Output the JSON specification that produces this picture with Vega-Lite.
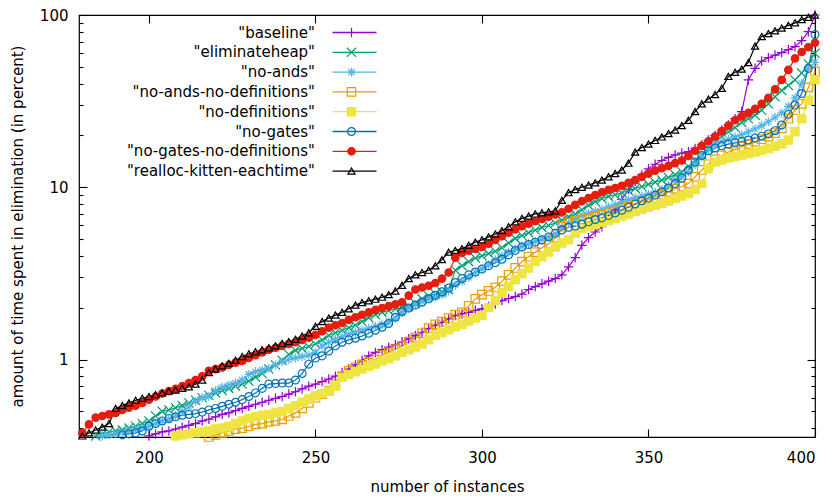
{
  "$schema": "https://vega.github.io/schema/vega-lite/v6.json",
  "width": 736,
  "height": 422,
  "autosize": {"type": "none"},
  "padding": {"left": 79, "top": 15, "right": 17, "bottom": 62},
  "config": {
    "font": "DejaVu Sans",
    "view": {"stroke": "#000", "strokeWidth": 1.2},
    "axis": {"domain": false, "grid": false, "labelFontSize": 15, "titleFontSize": 15, "titleFontWeight": "normal", "labelColor": "#000", "titleColor": "#000", "tickColor": "#000", "tickWidth": 1.1},
    "legend": {"labelLimit": 0}
  },
  "data": {"values": [
    {"s":"b","x":200,"y":0.36},{"s":"b","x":202,"y":0.37},{"s":"b","x":204,"y":0.38},{"s":"b","x":206,"y":0.385},{"s":"b","x":208,"y":0.395},{"s":"b","x":210,"y":0.405},{"s":"b","x":212,"y":0.415},{"s":"b","x":214,"y":0.425},{"s":"b","x":216,"y":0.44},{"s":"b","x":218,"y":0.45},{"s":"b","x":220,"y":0.465},{"s":"b","x":222,"y":0.48},{"s":"b","x":224,"y":0.49},{"s":"b","x":226,"y":0.505},{"s":"b","x":228,"y":0.52},{"s":"b","x":230,"y":0.535},{"s":"b","x":232,"y":0.55},{"s":"b","x":234,"y":0.565},{"s":"b","x":236,"y":0.58},{"s":"b","x":238,"y":0.595},{"s":"b","x":240,"y":0.61},{"s":"b","x":242,"y":0.63},{"s":"b","x":244,"y":0.65},{"s":"b","x":246,"y":0.675},{"s":"b","x":248,"y":0.7},{"s":"b","x":250,"y":0.72},{"s":"b","x":252,"y":0.745},{"s":"b","x":254,"y":0.77},{"s":"b","x":256,"y":0.8},{"s":"b","x":258,"y":0.84},{"s":"b","x":260,"y":0.88},{"s":"b","x":262,"y":0.93},{"s":"b","x":264,"y":0.99},{"s":"b","x":266,"y":1.05},{"s":"b","x":268,"y":1.1},{"s":"b","x":270,"y":1.14},{"s":"b","x":272,"y":1.18},{"s":"b","x":274,"y":1.22},{"s":"b","x":276,"y":1.27},{"s":"b","x":278,"y":1.32},{"s":"b","x":280,"y":1.38},{"s":"b","x":282,"y":1.44},{"s":"b","x":284,"y":1.51},{"s":"b","x":286,"y":1.58},{"s":"b","x":288,"y":1.64},{"s":"b","x":290,"y":1.72},{"s":"b","x":292,"y":1.8},{"s":"b","x":294,"y":1.84},{"s":"b","x":296,"y":1.88},{"s":"b","x":298,"y":1.93},{"s":"b","x":300,"y":1.97},{"s":"b","x":302,"y":2.03},{"s":"b","x":304,"y":2.1},{"s":"b","x":306,"y":2.2},{"s":"b","x":308,"y":2.26},{"s":"b","x":310,"y":2.32},{"s":"b","x":312,"y":2.4},{"s":"b","x":314,"y":2.55},{"s":"b","x":316,"y":2.65},{"s":"b","x":318,"y":2.75},{"s":"b","x":320,"y":2.85},{"s":"b","x":322,"y":2.95},{"s":"b","x":324,"y":3.1},{"s":"b","x":326,"y":3.45},{"s":"b","x":328,"y":3.9},{"s":"b","x":330,"y":4.6},{"s":"b","x":332,"y":5.1},{"s":"b","x":334,"y":5.5},{"s":"b","x":336,"y":5.9},{"s":"b","x":338,"y":6.5},{"s":"b","x":340,"y":7.4},{"s":"b","x":342,"y":8.5},{"s":"b","x":344,"y":9.7},{"s":"b","x":346,"y":10.8},{"s":"b","x":348,"y":11.8},{"s":"b","x":350,"y":12.8},{"s":"b","x":352,"y":13.6},{"s":"b","x":354,"y":14.3},{"s":"b","x":356,"y":14.9},{"s":"b","x":358,"y":15.4},{"s":"b","x":360,"y":15.8},{"s":"b","x":362,"y":16.1},{"s":"b","x":364,"y":16.8},{"s":"b","x":366,"y":17.6},{"s":"b","x":368,"y":18.8},{"s":"b","x":370,"y":20},{"s":"b","x":372,"y":21.5},{"s":"b","x":374,"y":23},{"s":"b","x":376,"y":25},{"s":"b","x":378,"y":27.5},{"s":"b","x":380,"y":42},{"s":"b","x":382,"y":49},{"s":"b","x":384,"y":54},{"s":"b","x":386,"y":56.5},{"s":"b","x":388,"y":58.5},{"s":"b","x":390,"y":60.5},{"s":"b","x":392,"y":63},{"s":"b","x":394,"y":65.5},{"s":"b","x":396,"y":71},{"s":"b","x":398,"y":80},{"s":"b","x":400,"y":100},
    {"s":"e","x":184,"y":0.36},{"s":"e","x":186,"y":0.37},{"s":"e","x":188,"y":0.38},{"s":"e","x":190,"y":0.385},{"s":"e","x":192,"y":0.39},{"s":"e","x":194,"y":0.4},{"s":"e","x":196,"y":0.41},{"s":"e","x":198,"y":0.425},{"s":"e","x":200,"y":0.44},{"s":"e","x":202,"y":0.47},{"s":"e","x":204,"y":0.5},{"s":"e","x":206,"y":0.51},{"s":"e","x":208,"y":0.525},{"s":"e","x":210,"y":0.54},{"s":"e","x":212,"y":0.56},{"s":"e","x":214,"y":0.58},{"s":"e","x":216,"y":0.6},{"s":"e","x":218,"y":0.62},{"s":"e","x":220,"y":0.64},{"s":"e","x":222,"y":0.66},{"s":"e","x":224,"y":0.68},{"s":"e","x":226,"y":0.7},{"s":"e","x":228,"y":0.72},{"s":"e","x":230,"y":0.75},{"s":"e","x":232,"y":0.79},{"s":"e","x":234,"y":0.83},{"s":"e","x":236,"y":0.88},{"s":"e","x":238,"y":0.93},{"s":"e","x":240,"y":0.99},{"s":"e","x":242,"y":1.07},{"s":"e","x":244,"y":1.13},{"s":"e","x":246,"y":1.16},{"s":"e","x":248,"y":1.19},{"s":"e","x":250,"y":1.23},{"s":"e","x":252,"y":1.3},{"s":"e","x":254,"y":1.38},{"s":"e","x":256,"y":1.43},{"s":"e","x":258,"y":1.48},{"s":"e","x":260,"y":1.53},{"s":"e","x":262,"y":1.58},{"s":"e","x":264,"y":1.66},{"s":"e","x":266,"y":1.75},{"s":"e","x":268,"y":1.82},{"s":"e","x":270,"y":1.88},{"s":"e","x":272,"y":1.92},{"s":"e","x":274,"y":1.97},{"s":"e","x":276,"y":2},{"s":"e","x":278,"y":2.03},{"s":"e","x":280,"y":2.12},{"s":"e","x":282,"y":2.25},{"s":"e","x":284,"y":2.33},{"s":"e","x":286,"y":2.4},{"s":"e","x":288,"y":2.47},{"s":"e","x":290,"y":2.55},{"s":"e","x":292,"y":3.3},{"s":"e","x":294,"y":3.5},{"s":"e","x":296,"y":3.7},{"s":"e","x":298,"y":3.88},{"s":"e","x":300,"y":4},{"s":"e","x":302,"y":4.12},{"s":"e","x":304,"y":4.25},{"s":"e","x":306,"y":4.45},{"s":"e","x":308,"y":4.75},{"s":"e","x":310,"y":5.05},{"s":"e","x":312,"y":5.25},{"s":"e","x":314,"y":5.45},{"s":"e","x":316,"y":5.65},{"s":"e","x":318,"y":5.85},{"s":"e","x":320,"y":6},{"s":"e","x":322,"y":6.2},{"s":"e","x":324,"y":6.45},{"s":"e","x":326,"y":6.75},{"s":"e","x":328,"y":7},{"s":"e","x":330,"y":7.4},{"s":"e","x":332,"y":7.85},{"s":"e","x":334,"y":8.25},{"s":"e","x":336,"y":8.6},{"s":"e","x":338,"y":8.85},{"s":"e","x":340,"y":9.05},{"s":"e","x":342,"y":9.3},{"s":"e","x":344,"y":9.55},{"s":"e","x":346,"y":9.85},{"s":"e","x":348,"y":10.1},{"s":"e","x":350,"y":10.4},{"s":"e","x":352,"y":10.7},{"s":"e","x":354,"y":11},{"s":"e","x":356,"y":11.4},{"s":"e","x":358,"y":11.8},{"s":"e","x":360,"y":12.3},{"s":"e","x":362,"y":13.2},{"s":"e","x":364,"y":14.3},{"s":"e","x":366,"y":15.5},{"s":"e","x":368,"y":16.8},{"s":"e","x":370,"y":18.2},{"s":"e","x":372,"y":19.8},{"s":"e","x":374,"y":21},{"s":"e","x":376,"y":22.2},{"s":"e","x":378,"y":23.8},{"s":"e","x":380,"y":25},{"s":"e","x":382,"y":26.2},{"s":"e","x":384,"y":28},{"s":"e","x":386,"y":30.5},{"s":"e","x":388,"y":33.5},{"s":"e","x":390,"y":36.5},{"s":"e","x":392,"y":39},{"s":"e","x":394,"y":42},{"s":"e","x":396,"y":46},{"s":"e","x":398,"y":52},{"s":"e","x":400,"y":60},
    {"s":"a","x":186,"y":0.36},{"s":"a","x":188,"y":0.365},{"s":"a","x":190,"y":0.37},{"s":"a","x":192,"y":0.38},{"s":"a","x":194,"y":0.385},{"s":"a","x":196,"y":0.39},{"s":"a","x":198,"y":0.4},{"s":"a","x":200,"y":0.41},{"s":"a","x":202,"y":0.425},{"s":"a","x":204,"y":0.44},{"s":"a","x":206,"y":0.45},{"s":"a","x":208,"y":0.47},{"s":"a","x":210,"y":0.5},{"s":"a","x":212,"y":0.53},{"s":"a","x":214,"y":0.57},{"s":"a","x":216,"y":0.6},{"s":"a","x":218,"y":0.61},{"s":"a","x":220,"y":0.66},{"s":"a","x":222,"y":0.69},{"s":"a","x":224,"y":0.71},{"s":"a","x":226,"y":0.73},{"s":"a","x":228,"y":0.76},{"s":"a","x":230,"y":0.82},{"s":"a","x":232,"y":0.85},{"s":"a","x":234,"y":0.87},{"s":"a","x":236,"y":0.89},{"s":"a","x":238,"y":0.93},{"s":"a","x":240,"y":0.97},{"s":"a","x":242,"y":1},{"s":"a","x":244,"y":1.02},{"s":"a","x":246,"y":1.04},{"s":"a","x":248,"y":1.06},{"s":"a","x":250,"y":1.1},{"s":"a","x":252,"y":1.2},{"s":"a","x":254,"y":1.26},{"s":"a","x":256,"y":1.31},{"s":"a","x":258,"y":1.36},{"s":"a","x":260,"y":1.4},{"s":"a","x":262,"y":1.44},{"s":"a","x":264,"y":1.48},{"s":"a","x":266,"y":1.52},{"s":"a","x":268,"y":1.56},{"s":"a","x":270,"y":1.6},{"s":"a","x":272,"y":1.66},{"s":"a","x":274,"y":1.74},{"s":"a","x":276,"y":1.86},{"s":"a","x":278,"y":1.98},{"s":"a","x":280,"y":2.08},{"s":"a","x":282,"y":2.17},{"s":"a","x":284,"y":2.25},{"s":"a","x":286,"y":2.3},{"s":"a","x":288,"y":2.38},{"s":"a","x":290,"y":2.5},{"s":"a","x":292,"y":2.7},{"s":"a","x":294,"y":2.84},{"s":"a","x":296,"y":3},{"s":"a","x":298,"y":3.2},{"s":"a","x":300,"y":3.35},{"s":"a","x":302,"y":3.55},{"s":"a","x":304,"y":3.8},{"s":"a","x":306,"y":4},{"s":"a","x":308,"y":4.2},{"s":"a","x":310,"y":4.4},{"s":"a","x":312,"y":4.55},{"s":"a","x":314,"y":4.7},{"s":"a","x":316,"y":4.85},{"s":"a","x":318,"y":5},{"s":"a","x":320,"y":5.15},{"s":"a","x":322,"y":5.35},{"s":"a","x":324,"y":5.9},{"s":"a","x":326,"y":6.2},{"s":"a","x":328,"y":6.55},{"s":"a","x":330,"y":6.85},{"s":"a","x":332,"y":7.05},{"s":"a","x":334,"y":7.25},{"s":"a","x":336,"y":7.45},{"s":"a","x":338,"y":7.7},{"s":"a","x":340,"y":7.9},{"s":"a","x":342,"y":8.2},{"s":"a","x":344,"y":8.45},{"s":"a","x":346,"y":8.7},{"s":"a","x":348,"y":8.9},{"s":"a","x":350,"y":9.1},{"s":"a","x":352,"y":9.35},{"s":"a","x":354,"y":9.7},{"s":"a","x":356,"y":10.2},{"s":"a","x":358,"y":11},{"s":"a","x":360,"y":11.6},{"s":"a","x":362,"y":12.3},{"s":"a","x":364,"y":13.5},{"s":"a","x":366,"y":15},{"s":"a","x":368,"y":16.6},{"s":"a","x":370,"y":17.6},{"s":"a","x":372,"y":18.4},{"s":"a","x":374,"y":19},{"s":"a","x":376,"y":19.6},{"s":"a","x":378,"y":20.2},{"s":"a","x":380,"y":21},{"s":"a","x":382,"y":21.8},{"s":"a","x":384,"y":22.8},{"s":"a","x":386,"y":24},{"s":"a","x":388,"y":25.5},{"s":"a","x":390,"y":27},{"s":"a","x":392,"y":29.5},{"s":"a","x":394,"y":33},{"s":"a","x":396,"y":40},{"s":"a","x":398,"y":49},{"s":"a","x":400,"y":53},
    {"s":"o","x":218,"y":0.355},{"s":"o","x":220,"y":0.365},{"s":"o","x":222,"y":0.375},{"s":"o","x":224,"y":0.385},{"s":"o","x":226,"y":0.395},{"s":"o","x":228,"y":0.4},{"s":"o","x":230,"y":0.41},{"s":"o","x":232,"y":0.42},{"s":"o","x":234,"y":0.425},{"s":"o","x":236,"y":0.435},{"s":"o","x":238,"y":0.44},{"s":"o","x":240,"y":0.45},{"s":"o","x":242,"y":0.47},{"s":"o","x":244,"y":0.49},{"s":"o","x":246,"y":0.52},{"s":"o","x":248,"y":0.56},{"s":"o","x":250,"y":0.6},{"s":"o","x":252,"y":0.63},{"s":"o","x":254,"y":0.66},{"s":"o","x":256,"y":0.72},{"s":"o","x":258,"y":0.8},{"s":"o","x":260,"y":0.86},{"s":"o","x":262,"y":0.9},{"s":"o","x":264,"y":0.93},{"s":"o","x":266,"y":0.96},{"s":"o","x":268,"y":1},{"s":"o","x":270,"y":1.06},{"s":"o","x":272,"y":1.1},{"s":"o","x":274,"y":1.15},{"s":"o","x":276,"y":1.2},{"s":"o","x":278,"y":1.27},{"s":"o","x":280,"y":1.34},{"s":"o","x":282,"y":1.42},{"s":"o","x":284,"y":1.52},{"s":"o","x":286,"y":1.6},{"s":"o","x":288,"y":1.66},{"s":"o","x":290,"y":1.74},{"s":"o","x":292,"y":1.82},{"s":"o","x":294,"y":1.88},{"s":"o","x":296,"y":2.05},{"s":"o","x":298,"y":2.25},{"s":"o","x":300,"y":2.38},{"s":"o","x":302,"y":2.5},{"s":"o","x":304,"y":2.62},{"s":"o","x":306,"y":2.85},{"s":"o","x":308,"y":3.1},{"s":"o","x":310,"y":3.4},{"s":"o","x":312,"y":3.7},{"s":"o","x":314,"y":3.95},{"s":"o","x":316,"y":4.2},{"s":"o","x":318,"y":4.45},{"s":"o","x":320,"y":4.7},{"s":"o","x":322,"y":5.1},{"s":"o","x":324,"y":5.9},{"s":"o","x":326,"y":6.2},{"s":"o","x":328,"y":6.35},{"s":"o","x":330,"y":6.5},{"s":"o","x":332,"y":6.6},{"s":"o","x":334,"y":6.75},{"s":"o","x":336,"y":6.9},{"s":"o","x":338,"y":7.05},{"s":"o","x":340,"y":7.25},{"s":"o","x":342,"y":7.45},{"s":"o","x":344,"y":7.7},{"s":"o","x":346,"y":7.95},{"s":"o","x":348,"y":8.2},{"s":"o","x":350,"y":8.45},{"s":"o","x":352,"y":8.75},{"s":"o","x":354,"y":9.05},{"s":"o","x":356,"y":9.4},{"s":"o","x":358,"y":9.8},{"s":"o","x":360,"y":10.1},{"s":"o","x":362,"y":10.5},{"s":"o","x":364,"y":11.5},{"s":"o","x":366,"y":12.6},{"s":"o","x":368,"y":13.6},{"s":"o","x":370,"y":14.5},{"s":"o","x":372,"y":15.3},{"s":"o","x":374,"y":16},{"s":"o","x":376,"y":16.6},{"s":"o","x":378,"y":17.2},{"s":"o","x":380,"y":17.8},{"s":"o","x":382,"y":18.4},{"s":"o","x":384,"y":19},{"s":"o","x":386,"y":19.7},{"s":"o","x":388,"y":20.6},{"s":"o","x":390,"y":22},{"s":"o","x":392,"y":25},{"s":"o","x":394,"y":28},{"s":"o","x":396,"y":30.5},{"s":"o","x":398,"y":38},{"s":"o","x":400,"y":47},
    {"s":"d","x":208,"y":0.36},{"s":"d","x":210,"y":0.365},{"s":"d","x":212,"y":0.37},{"s":"d","x":214,"y":0.375},{"s":"d","x":216,"y":0.38},{"s":"d","x":218,"y":0.385},{"s":"d","x":220,"y":0.395},{"s":"d","x":222,"y":0.4},{"s":"d","x":224,"y":0.41},{"s":"d","x":226,"y":0.425},{"s":"d","x":228,"y":0.44},{"s":"d","x":230,"y":0.455},{"s":"d","x":232,"y":0.465},{"s":"d","x":234,"y":0.475},{"s":"d","x":236,"y":0.48},{"s":"d","x":238,"y":0.49},{"s":"d","x":240,"y":0.5},{"s":"d","x":242,"y":0.52},{"s":"d","x":244,"y":0.54},{"s":"d","x":246,"y":0.565},{"s":"d","x":248,"y":0.59},{"s":"d","x":250,"y":0.615},{"s":"d","x":252,"y":0.635},{"s":"d","x":254,"y":0.655},{"s":"d","x":256,"y":0.7},{"s":"d","x":258,"y":0.79},{"s":"d","x":260,"y":0.82},{"s":"d","x":262,"y":0.85},{"s":"d","x":264,"y":0.88},{"s":"d","x":266,"y":0.91},{"s":"d","x":268,"y":0.94},{"s":"d","x":270,"y":0.98},{"s":"d","x":272,"y":1.01},{"s":"d","x":274,"y":1.05},{"s":"d","x":276,"y":1.1},{"s":"d","x":278,"y":1.14},{"s":"d","x":280,"y":1.18},{"s":"d","x":282,"y":1.23},{"s":"d","x":284,"y":1.3},{"s":"d","x":286,"y":1.38},{"s":"d","x":288,"y":1.43},{"s":"d","x":290,"y":1.49},{"s":"d","x":292,"y":1.55},{"s":"d","x":294,"y":1.6},{"s":"d","x":296,"y":1.67},{"s":"d","x":298,"y":1.74},{"s":"d","x":300,"y":1.8},{"s":"d","x":302,"y":2},{"s":"d","x":304,"y":2.2},{"s":"d","x":306,"y":2.45},{"s":"d","x":308,"y":2.65},{"s":"d","x":310,"y":2.9},{"s":"d","x":312,"y":3.15},{"s":"d","x":314,"y":3.4},{"s":"d","x":316,"y":3.7},{"s":"d","x":318,"y":3.95},{"s":"d","x":320,"y":4.2},{"s":"d","x":322,"y":4.5},{"s":"d","x":324,"y":4.75},{"s":"d","x":326,"y":4.95},{"s":"d","x":328,"y":5.4},{"s":"d","x":330,"y":5.75},{"s":"d","x":332,"y":5.95},{"s":"d","x":334,"y":6.1},{"s":"d","x":336,"y":6.25},{"s":"d","x":338,"y":6.4},{"s":"d","x":340,"y":6.6},{"s":"d","x":342,"y":6.8},{"s":"d","x":344,"y":7},{"s":"d","x":346,"y":7.25},{"s":"d","x":348,"y":7.45},{"s":"d","x":350,"y":7.65},{"s":"d","x":352,"y":7.85},{"s":"d","x":354,"y":8.05},{"s":"d","x":356,"y":8.3},{"s":"d","x":358,"y":8.6},{"s":"d","x":360,"y":8.9},{"s":"d","x":362,"y":9.2},{"s":"d","x":364,"y":9.7},{"s":"d","x":366,"y":10.5},{"s":"d","x":368,"y":12.8},{"s":"d","x":370,"y":14},{"s":"d","x":372,"y":14.4},{"s":"d","x":374,"y":14.8},{"s":"d","x":376,"y":15.1},{"s":"d","x":378,"y":15.4},{"s":"d","x":380,"y":15.7},{"s":"d","x":382,"y":16},{"s":"d","x":384,"y":16.4},{"s":"d","x":386,"y":16.8},{"s":"d","x":388,"y":17.3},{"s":"d","x":390,"y":17.9},{"s":"d","x":392,"y":18.8},{"s":"d","x":394,"y":21},{"s":"d","x":396,"y":25},{"s":"d","x":398,"y":32},{"s":"d","x":400,"y":42},
    {"s":"n","x":192,"y":0.365},{"s":"n","x":194,"y":0.37},{"s":"n","x":196,"y":0.375},{"s":"n","x":198,"y":0.385},{"s":"n","x":200,"y":0.41},{"s":"n","x":202,"y":0.425},{"s":"n","x":204,"y":0.44},{"s":"n","x":206,"y":0.455},{"s":"n","x":208,"y":0.465},{"s":"n","x":210,"y":0.475},{"s":"n","x":212,"y":0.48},{"s":"n","x":214,"y":0.485},{"s":"n","x":216,"y":0.495},{"s":"n","x":218,"y":0.51},{"s":"n","x":220,"y":0.52},{"s":"n","x":222,"y":0.535},{"s":"n","x":224,"y":0.55},{"s":"n","x":226,"y":0.565},{"s":"n","x":228,"y":0.585},{"s":"n","x":230,"y":0.61},{"s":"n","x":232,"y":0.64},{"s":"n","x":234,"y":0.68},{"s":"n","x":236,"y":0.72},{"s":"n","x":238,"y":0.725},{"s":"n","x":240,"y":0.73},{"s":"n","x":242,"y":0.73},{"s":"n","x":244,"y":0.76},{"s":"n","x":246,"y":0.83},{"s":"n","x":248,"y":0.94},{"s":"n","x":250,"y":1.02},{"s":"n","x":252,"y":1.05},{"s":"n","x":254,"y":1.12},{"s":"n","x":256,"y":1.2},{"s":"n","x":258,"y":1.26},{"s":"n","x":260,"y":1.3},{"s":"n","x":262,"y":1.33},{"s":"n","x":264,"y":1.37},{"s":"n","x":266,"y":1.42},{"s":"n","x":268,"y":1.48},{"s":"n","x":270,"y":1.54},{"s":"n","x":272,"y":1.62},{"s":"n","x":274,"y":1.76},{"s":"n","x":276,"y":1.9},{"s":"n","x":278,"y":1.99},{"s":"n","x":280,"y":2.07},{"s":"n","x":282,"y":2.15},{"s":"n","x":284,"y":2.25},{"s":"n","x":286,"y":2.36},{"s":"n","x":288,"y":2.47},{"s":"n","x":290,"y":2.6},{"s":"n","x":292,"y":2.8},{"s":"n","x":294,"y":2.95},{"s":"n","x":296,"y":3.1},{"s":"n","x":298,"y":3.22},{"s":"n","x":300,"y":3.35},{"s":"n","x":302,"y":3.5},{"s":"n","x":304,"y":3.65},{"s":"n","x":306,"y":3.82},{"s":"n","x":308,"y":4.05},{"s":"n","x":310,"y":4.3},{"s":"n","x":312,"y":4.5},{"s":"n","x":314,"y":4.65},{"s":"n","x":316,"y":4.8},{"s":"n","x":318,"y":4.95},{"s":"n","x":320,"y":5.15},{"s":"n","x":322,"y":5.4},{"s":"n","x":324,"y":5.65},{"s":"n","x":326,"y":5.85},{"s":"n","x":328,"y":5.95},{"s":"n","x":330,"y":6.1},{"s":"n","x":332,"y":6.3},{"s":"n","x":334,"y":6.5},{"s":"n","x":336,"y":6.65},{"s":"n","x":338,"y":6.85},{"s":"n","x":340,"y":7.1},{"s":"n","x":342,"y":7.35},{"s":"n","x":344,"y":7.65},{"s":"n","x":346,"y":8},{"s":"n","x":348,"y":8.35},{"s":"n","x":350,"y":8.65},{"s":"n","x":352,"y":9},{"s":"n","x":354,"y":9.4},{"s":"n","x":356,"y":9.9},{"s":"n","x":358,"y":10.5},{"s":"n","x":360,"y":11.3},{"s":"n","x":362,"y":12.6},{"s":"n","x":364,"y":14},{"s":"n","x":366,"y":15.3},{"s":"n","x":368,"y":16.3},{"s":"n","x":370,"y":16.9},{"s":"n","x":372,"y":17.4},{"s":"n","x":374,"y":17.8},{"s":"n","x":376,"y":18.1},{"s":"n","x":378,"y":18.4},{"s":"n","x":380,"y":18.8},{"s":"n","x":382,"y":19.3},{"s":"n","x":384,"y":19.8},{"s":"n","x":386,"y":20.4},{"s":"n","x":388,"y":21.3},{"s":"n","x":390,"y":23},{"s":"n","x":392,"y":26.5},{"s":"n","x":394,"y":30},{"s":"n","x":396,"y":35},{"s":"n","x":398,"y":49},{"s":"n","x":400,"y":77},
    {"s":"r","x":180,"y":0.375},{"s":"r","x":182,"y":0.42},{"s":"r","x":184,"y":0.46},{"s":"r","x":186,"y":0.47},{"s":"r","x":188,"y":0.48},{"s":"r","x":190,"y":0.49},{"s":"r","x":192,"y":0.51},{"s":"r","x":194,"y":0.525},{"s":"r","x":196,"y":0.54},{"s":"r","x":198,"y":0.56},{"s":"r","x":200,"y":0.585},{"s":"r","x":202,"y":0.61},{"s":"r","x":204,"y":0.635},{"s":"r","x":206,"y":0.655},{"s":"r","x":208,"y":0.675},{"s":"r","x":210,"y":0.7},{"s":"r","x":212,"y":0.73},{"s":"r","x":214,"y":0.76},{"s":"r","x":216,"y":0.8},{"s":"r","x":218,"y":0.86},{"s":"r","x":220,"y":0.88},{"s":"r","x":222,"y":0.9},{"s":"r","x":224,"y":0.93},{"s":"r","x":226,"y":0.96},{"s":"r","x":228,"y":0.98},{"s":"r","x":230,"y":1.02},{"s":"r","x":232,"y":1.06},{"s":"r","x":234,"y":1.1},{"s":"r","x":236,"y":1.14},{"s":"r","x":238,"y":1.17},{"s":"r","x":240,"y":1.2},{"s":"r","x":242,"y":1.23},{"s":"r","x":244,"y":1.26},{"s":"r","x":246,"y":1.3},{"s":"r","x":248,"y":1.34},{"s":"r","x":250,"y":1.39},{"s":"r","x":252,"y":1.46},{"s":"r","x":254,"y":1.53},{"s":"r","x":256,"y":1.58},{"s":"r","x":258,"y":1.63},{"s":"r","x":260,"y":1.7},{"s":"r","x":262,"y":1.76},{"s":"r","x":264,"y":1.82},{"s":"r","x":266,"y":1.88},{"s":"r","x":268,"y":1.94},{"s":"r","x":270,"y":1.99},{"s":"r","x":272,"y":2.04},{"s":"r","x":274,"y":2.09},{"s":"r","x":276,"y":2.15},{"s":"r","x":278,"y":2.35},{"s":"r","x":280,"y":2.55},{"s":"r","x":282,"y":2.62},{"s":"r","x":284,"y":2.68},{"s":"r","x":286,"y":2.78},{"s":"r","x":288,"y":2.95},{"s":"r","x":290,"y":3.2},{"s":"r","x":292,"y":3.9},{"s":"r","x":294,"y":4.15},{"s":"r","x":296,"y":4.28},{"s":"r","x":298,"y":4.38},{"s":"r","x":300,"y":4.5},{"s":"r","x":302,"y":4.7},{"s":"r","x":304,"y":4.95},{"s":"r","x":306,"y":5.2},{"s":"r","x":308,"y":5.45},{"s":"r","x":310,"y":5.7},{"s":"r","x":312,"y":5.95},{"s":"r","x":314,"y":6.15},{"s":"r","x":316,"y":6.35},{"s":"r","x":318,"y":6.55},{"s":"r","x":320,"y":6.75},{"s":"r","x":322,"y":6.95},{"s":"r","x":324,"y":7.15},{"s":"r","x":326,"y":7.5},{"s":"r","x":328,"y":7.9},{"s":"r","x":330,"y":8.3},{"s":"r","x":332,"y":8.65},{"s":"r","x":334,"y":9},{"s":"r","x":336,"y":9.35},{"s":"r","x":338,"y":9.65},{"s":"r","x":340,"y":9.9},{"s":"r","x":342,"y":10.2},{"s":"r","x":344,"y":10.6},{"s":"r","x":346,"y":11},{"s":"r","x":348,"y":11.5},{"s":"r","x":350,"y":12},{"s":"r","x":352,"y":12.5},{"s":"r","x":354,"y":12.9},{"s":"r","x":356,"y":13.3},{"s":"r","x":358,"y":13.8},{"s":"r","x":360,"y":14.3},{"s":"r","x":362,"y":15.2},{"s":"r","x":364,"y":16.3},{"s":"r","x":366,"y":17.4},{"s":"r","x":368,"y":18.5},{"s":"r","x":370,"y":19.7},{"s":"r","x":372,"y":21.2},{"s":"r","x":374,"y":22.8},{"s":"r","x":376,"y":24.5},{"s":"r","x":378,"y":25.8},{"s":"r","x":380,"y":27},{"s":"r","x":382,"y":28.5},{"s":"r","x":384,"y":30.5},{"s":"r","x":386,"y":33},{"s":"r","x":388,"y":37},{"s":"r","x":390,"y":42},{"s":"r","x":392,"y":48},{"s":"r","x":394,"y":56},{"s":"r","x":396,"y":61},{"s":"r","x":398,"y":65},{"s":"r","x":400,"y":69},
    {"s":"k","x":180,"y":0.36},{"s":"k","x":182,"y":0.375},{"s":"k","x":184,"y":0.39},{"s":"k","x":186,"y":0.405},{"s":"k","x":188,"y":0.425},{"s":"k","x":190,"y":0.52},{"s":"k","x":192,"y":0.54},{"s":"k","x":194,"y":0.56},{"s":"k","x":196,"y":0.58},{"s":"k","x":198,"y":0.595},{"s":"k","x":200,"y":0.61},{"s":"k","x":202,"y":0.625},{"s":"k","x":204,"y":0.64},{"s":"k","x":206,"y":0.655},{"s":"k","x":208,"y":0.665},{"s":"k","x":210,"y":0.68},{"s":"k","x":212,"y":0.695},{"s":"k","x":214,"y":0.72},{"s":"k","x":216,"y":0.76},{"s":"k","x":218,"y":0.84},{"s":"k","x":220,"y":0.88},{"s":"k","x":222,"y":0.92},{"s":"k","x":224,"y":0.95},{"s":"k","x":226,"y":0.99},{"s":"k","x":228,"y":1.04},{"s":"k","x":230,"y":1.08},{"s":"k","x":232,"y":1.11},{"s":"k","x":234,"y":1.14},{"s":"k","x":236,"y":1.17},{"s":"k","x":238,"y":1.2},{"s":"k","x":240,"y":1.24},{"s":"k","x":242,"y":1.27},{"s":"k","x":244,"y":1.31},{"s":"k","x":246,"y":1.37},{"s":"k","x":248,"y":1.43},{"s":"k","x":250,"y":1.56},{"s":"k","x":252,"y":1.66},{"s":"k","x":254,"y":1.74},{"s":"k","x":256,"y":1.81},{"s":"k","x":258,"y":1.88},{"s":"k","x":260,"y":1.97},{"s":"k","x":262,"y":2.07},{"s":"k","x":264,"y":2.14},{"s":"k","x":266,"y":2.19},{"s":"k","x":268,"y":2.24},{"s":"k","x":270,"y":2.3},{"s":"k","x":272,"y":2.38},{"s":"k","x":274,"y":2.5},{"s":"k","x":276,"y":2.7},{"s":"k","x":278,"y":2.95},{"s":"k","x":280,"y":3.1},{"s":"k","x":282,"y":3.2},{"s":"k","x":284,"y":3.3},{"s":"k","x":286,"y":3.5},{"s":"k","x":288,"y":3.8},{"s":"k","x":290,"y":4.2},{"s":"k","x":292,"y":4.3},{"s":"k","x":294,"y":4.4},{"s":"k","x":296,"y":4.6},{"s":"k","x":298,"y":4.8},{"s":"k","x":300,"y":4.95},{"s":"k","x":302,"y":5.15},{"s":"k","x":304,"y":5.35},{"s":"k","x":306,"y":5.6},{"s":"k","x":308,"y":5.9},{"s":"k","x":310,"y":6.3},{"s":"k","x":312,"y":6.6},{"s":"k","x":314,"y":6.8},{"s":"k","x":316,"y":7},{"s":"k","x":318,"y":7.1},{"s":"k","x":320,"y":7.2},{"s":"k","x":322,"y":7.3},{"s":"k","x":324,"y":8.4},{"s":"k","x":326,"y":9.3},{"s":"k","x":328,"y":9.7},{"s":"k","x":330,"y":10},{"s":"k","x":332,"y":10.3},{"s":"k","x":334,"y":10.6},{"s":"k","x":336,"y":11},{"s":"k","x":338,"y":11.5},{"s":"k","x":340,"y":12},{"s":"k","x":342,"y":12.6},{"s":"k","x":344,"y":13.8},{"s":"k","x":346,"y":16},{"s":"k","x":348,"y":17},{"s":"k","x":350,"y":17.8},{"s":"k","x":352,"y":18.7},{"s":"k","x":354,"y":19.6},{"s":"k","x":356,"y":20.5},{"s":"k","x":358,"y":21.5},{"s":"k","x":360,"y":22.8},{"s":"k","x":362,"y":24.5},{"s":"k","x":364,"y":27.5},{"s":"k","x":366,"y":30.5},{"s":"k","x":368,"y":32.5},{"s":"k","x":370,"y":34.5},{"s":"k","x":372,"y":37.5},{"s":"k","x":374,"y":44},{"s":"k","x":376,"y":46.5},{"s":"k","x":378,"y":48.5},{"s":"k","x":380,"y":53},{"s":"k","x":382,"y":66},{"s":"k","x":384,"y":75},{"s":"k","x":386,"y":78},{"s":"k","x":388,"y":81},{"s":"k","x":390,"y":84},{"s":"k","x":392,"y":87},{"s":"k","x":394,"y":90},{"s":"k","x":396,"y":94},{"s":"k","x":398,"y":97},{"s":"k","x":400,"y":100}
  ]},
  "transform": [
    {"lookup": "s", "from": {"data": {"values": [
      {"s": "b", "name": "\"baseline\""},
      {"s": "e", "name": "\"eliminateheap\""},
      {"s": "a", "name": "\"no-ands\""},
      {"s": "o", "name": "\"no-ands-no-definitions\""},
      {"s": "d", "name": "\"no-definitions\""},
      {"s": "n", "name": "\"no-gates\""},
      {"s": "r", "name": "\"no-gates-no-definitions\""},
      {"s": "k", "name": "\"realloc-kitten-eachtime\""}
    ]}, "key": "s", "fields": ["name"]}}
  ],
  "layer": [
    {
      "mark": {"type": "line", "strokeWidth": 1.2},
      "encoding": {
        "x": {"field": "x", "type": "quantitative", "scale": {"domain": [179, 400], "nice": false, "zero": false},
          "axis": {"orient": "bottom", "values": [200, 250, 300, 350, 400], "format": "d", "title": "number of instances", "tickSize": -8, "labelPadding": 21, "titlePadding": 14}},
        "y": {"field": "y", "type": "quantitative", "scale": {"type": "log", "domain": [0.355, 100], "nice": false},
          "axis": {"orient": "left", "values": [0.4, 0.5, 0.6, 0.7, 0.8, 0.9, 1, 2, 3, 4, 5, 6, 7, 8, 9, 10, 20, 30, 40, 50, 60, 70, 80, 90, 100], "format": "d",
            "labelExpr": "datum.value == 1 || datum.value == 10 || datum.value == 100 ? datum.label : ''",
            "tickSize": {"condition": {"test": "datum.value == 1 || datum.value == 10 || datum.value == 100", "value": -8}, "value": -4},
            "labelPadding": 19, "title": "amount of time spent in elimination (in percent)", "titlePadding": 14}},
        "stroke": {"field": "name", "type": "nominal",
          "scale": {"domain": ["\"baseline\"", "\"eliminateheap\"", "\"no-ands\"", "\"no-ands-no-definitions\"", "\"no-definitions\"", "\"no-gates\"", "\"no-gates-no-definitions\"", "\"realloc-kitten-eachtime\""],
            "range": ["#9400d3", "#009e73", "#56b4e9", "#e69f00", "#f0e442", "#0072b2", "#e51e10", "#000000"]},
          "legend": {"orient": "none", "legendX": 268, "legendY": 10, "title": null, "padding": 0, "symbolType": "M-11,0H11", "symbolSize": 16, "symbolStrokeWidth": 1.3, "labelOpacity": 0, "labelFontSize": 15, "rowPadding": 3.8}}
      }
    },
    {
      "mark": {"type": "point", "strokeWidth": 1.2, "opacity": 1},
      "encoding": {
        "x": {"field": "x", "type": "quantitative", "scale": {"domain": [179, 400], "nice": false, "zero": false},
          "axis": {"orient": "top", "values": [200, 250, 300, 350, 400], "labels": false, "title": null, "tickSize": -8}},
        "y": {"field": "y", "type": "quantitative", "scale": {"type": "log", "domain": [0.355, 100], "nice": false},
          "axis": {"orient": "right", "values": [0.4, 0.5, 0.6, 0.7, 0.8, 0.9, 1, 2, 3, 4, 5, 6, 7, 8, 9, 10, 20, 30, 40, 50, 60, 70, 80, 90, 100], "labels": false, "title": null,
            "tickSize": {"condition": {"test": "datum.value == 1 || datum.value == 10 || datum.value == 100", "value": -8}, "value": -4}}},
        "stroke": {"field": "name", "type": "nominal",
          "scale": {"domain": ["\"baseline\"", "\"eliminateheap\"", "\"no-ands\"", "\"no-ands-no-definitions\"", "\"no-definitions\"", "\"no-gates\"", "\"no-gates-no-definitions\"", "\"realloc-kitten-eachtime\""],
            "range": ["#9400d3", "#009e73", "#56b4e9", "#e69f00", "#f0e442", "#0072b2", "#e51e10", "#000000"]},
          "legend": {"orient": "none", "legendX": 265, "legendY": 10, "title": null, "padding": 0, "labelAlign": "right", "labelOffset": -44, "labelFontSize": 15, "labelColor": "#000", "rowPadding": 3.8, "symbolStrokeWidth": 1.2}},
        "fill": {"field": "name", "type": "nominal",
          "scale": {"domain": ["\"baseline\"", "\"eliminateheap\"", "\"no-ands\"", "\"no-ands-no-definitions\"", "\"no-definitions\"", "\"no-gates\"", "\"no-gates-no-definitions\"", "\"realloc-kitten-eachtime\""],
            "range": ["transparent", "transparent", "transparent", "transparent", "#f0e442", "transparent", "#e51e10", "transparent"]},
          "legend": {"orient": "none", "legendX": 265, "legendY": 10, "title": null, "padding": 0, "labelAlign": "right", "labelOffset": -44, "labelFontSize": 15, "labelColor": "#000", "rowPadding": 3.8, "symbolStrokeWidth": 1.2}},
        "shape": {"field": "name", "type": "nominal",
          "scale": {"domain": ["\"baseline\"", "\"eliminateheap\"", "\"no-ands\"", "\"no-ands-no-definitions\"", "\"no-definitions\"", "\"no-gates\"", "\"no-gates-no-definitions\"", "\"realloc-kitten-eachtime\""],
            "range": ["M-1,0H1M0,-1V1", "M-1,-1L1,1M-1,1L1,-1", "M-1,0H1M0,-1V1M-0.7,-0.7L0.7,0.7M-0.7,0.7L0.7,-0.7", "square", "square", "circle", "circle", "triangle-up"]},
          "legend": {"orient": "none", "legendX": 265, "legendY": 10, "title": null, "padding": 0, "labelAlign": "right", "labelOffset": -44, "labelFontSize": 15, "labelColor": "#000", "rowPadding": 3.8, "symbolStrokeWidth": 1.2}},
        "size": {"field": "name", "type": "nominal",
          "scale": {"domain": ["\"baseline\"", "\"eliminateheap\"", "\"no-ands\"", "\"no-ands-no-definitions\"", "\"no-definitions\"", "\"no-gates\"", "\"no-gates-no-definitions\"", "\"realloc-kitten-eachtime\""],
            "range": [90, 50, 64, 50, 64, 60, 100, 64]},
          "legend": {"orient": "none", "legendX": 265, "legendY": 10, "title": null, "padding": 0, "labelAlign": "right", "labelOffset": -44, "labelFontSize": 15, "labelColor": "#000", "rowPadding": 3.8, "symbolStrokeWidth": 1.2}}
      }
    }
  ],
  "resolve": {
    "axis": {"x": "independent", "y": "independent"},
    "legend": {"stroke": "independent", "fill": "independent", "shape": "independent", "size": "independent"}
  }
}
